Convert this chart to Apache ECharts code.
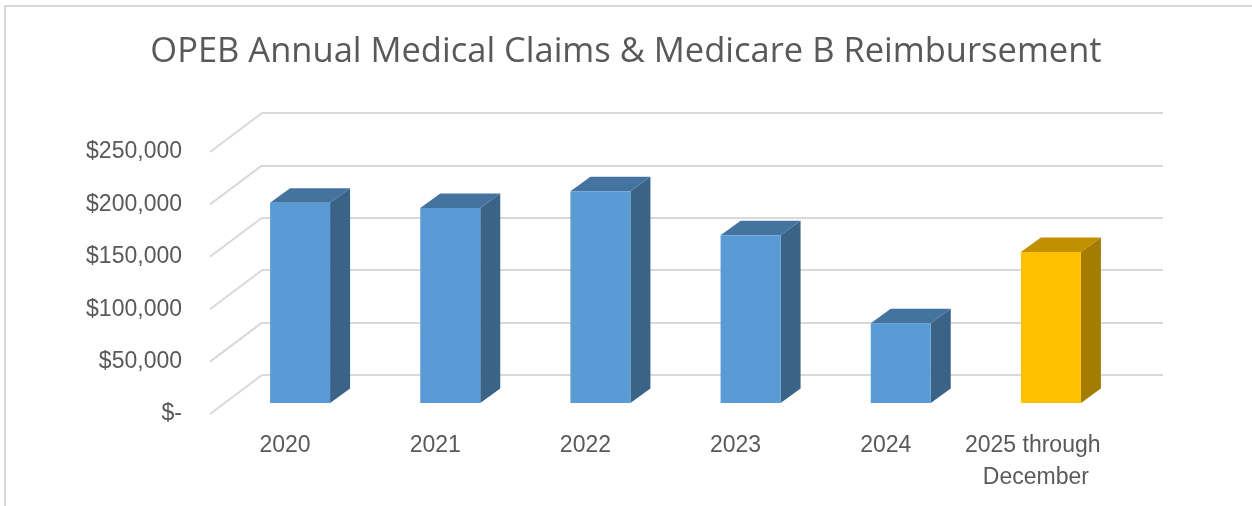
<!DOCTYPE html>
<html>
<head>
<meta charset="utf-8">
<script src="https://cdn.jsdelivr.net/npm/echarts@6/dist/echarts.min.js"></script>
<style>
  html, body { margin: 0; padding: 0; background: #fff; }
  #chart { width: 1252px; height: 506px; }
</style>
</head>
<body>
<div id="chart"></div>
<script>
const categories = ['2020', '2021', '2022', '2023', '2024', '2025 through December']
const claims = [191000, 186000, 202000, 160000, 76000, 144000]
const yTicks = [0, 50000, 100000, 150000, 200000, 250000]

// oblique 3D look: back wall offset and bar placement inside the floor depth
const WALL_DX = 52
const WALL_DY = 39
const BAR_FRONT_DX = 15
const BAR_FRONT_DY = 11
const BAR_DEPTH_DX = 20
const BAR_DEPTH_DY = 14.5
const BAR_WIDTH = 60

const palette = {
  blue: { front: '#5B9BD5', top: '#44739F', side: '#3A6387' },
  gold: { front: '#FFC000', top: '#C09000', side: '#A47C00' },
}

const chart = echarts.init(document.getElementById('chart'))

const formatMoney = (v) => (v === 0 ? '$-' : '$' + v.toLocaleString('en-US'))

chart.setOption({
  animation: false,
  backgroundColor: '#fff',
  title: {
    text: 'OPEB Annual Medical Claims & Medicare B Reimbursement',
    left: 'center',
    top: 30,
    textStyle: {
      fontFamily: 'Open Sans',
      fontWeight: 'normal',
      fontSize: 34.5,
      color: '#595959',
    },
  },
  graphic: [
    {
      type: 'rect',
      shape: { x: 5, y: 6, width: 1300, height: 560 },
      style: { fill: 'none', stroke: '#D9D9D9', lineWidth: 2 },
      silent: true,
      z: -10,
    },
  ],
  grid: [
    { left: 210, top: 152, width: 901, height: 262 },
    { left: 262, top: 113, width: 901, height: 262 },
  ],
  xAxis: [
    {
      type: 'category',
      gridIndex: 0,
      data: categories,
      axisLine: { show: false },
      axisTick: { show: false },
      axisLabel: {
        interval: 0,
        margin: 16,
        fontFamily: 'Liberation Sans',
        fontSize: 23,
        color: '#595959',
        lineHeight: 32,
        width: 145,
        overflow: 'break',
      },
    },
    { type: 'category', gridIndex: 1, data: categories, show: false },
  ],
  yAxis: [
    {
      type: 'value',
      gridIndex: 0,
      min: 0,
      max: 250000,
      interval: 50000,
      axisLine: { show: false },
      axisTick: { show: false },
      splitLine: { show: false },
      axisLabel: {
        margin: 28,
        fontFamily: 'Liberation Sans',
        fontSize: 23,
        color: '#595959',
        formatter: formatMoney,
      },
    },
    {
      type: 'value',
      gridIndex: 1,
      min: 0,
      max: 250000,
      interval: 50000,
      axisLine: { show: false },
      axisTick: { show: false },
      axisLabel: { show: false },
      splitLine: { lineStyle: { color: '#D9D9D9', width: 2 } },
    },
  ],
  series: [
    {
      // side-wall diagonals joining the floor edge to the back wall lines
      type: 'custom',
      xAxisIndex: 0,
      yAxisIndex: 0,
      z: 1,
      silent: true,
      data: yTicks.map((v) => [0, v]),
      renderItem: (params, api) => {
        const y = api.coord([0, api.value(1)])[1]
        const x = params.coordSys.x
        return {
          type: 'line',
          shape: { x1: x, y1: y, x2: x + WALL_DX, y2: y - WALL_DY },
          style: { stroke: '#D9D9D9', lineWidth: 2 },
        }
      },
    },
    {
      type: 'custom',
      name: 'Claims',
      xAxisIndex: 0,
      yAxisIndex: 0,
      z: 5,
      data: claims.map((v, i) => [i, v]),
      renderItem: (params, api) => {
        const idx = api.value(0)
        const top = api.coord([idx, api.value(1)])
        const base = api.coord([idx, 0])
        const colors = idx === categories.length - 1 ? palette.gold : palette.blue
        const x0 = top[0] + BAR_FRONT_DX - BAR_WIDTH / 2
        const x1 = x0 + BAR_WIDTH
        const yt = top[1] - BAR_FRONT_DY
        const yb = base[1] - BAR_FRONT_DY
        const dx = BAR_DEPTH_DX
        const dy = BAR_DEPTH_DY
        return {
          type: 'group',
          children: [
            {
              type: 'polygon',
              shape: { points: [[x1, yt], [x1 + dx, yt - dy], [x1 + dx, yb - dy], [x1, yb]] },
              style: { fill: colors.side },
            },
            {
              type: 'polygon',
              shape: { points: [[x0, yt], [x0 + dx, yt - dy], [x1 + dx, yt - dy], [x1, yt]] },
              style: { fill: colors.top },
            },
            {
              type: 'rect',
              shape: { x: x0, y: yt, width: BAR_WIDTH, height: yb - yt },
              style: { fill: colors.front },
            },
          ],
        }
      },
    },
  ],
})
</script>
</body>
</html>
